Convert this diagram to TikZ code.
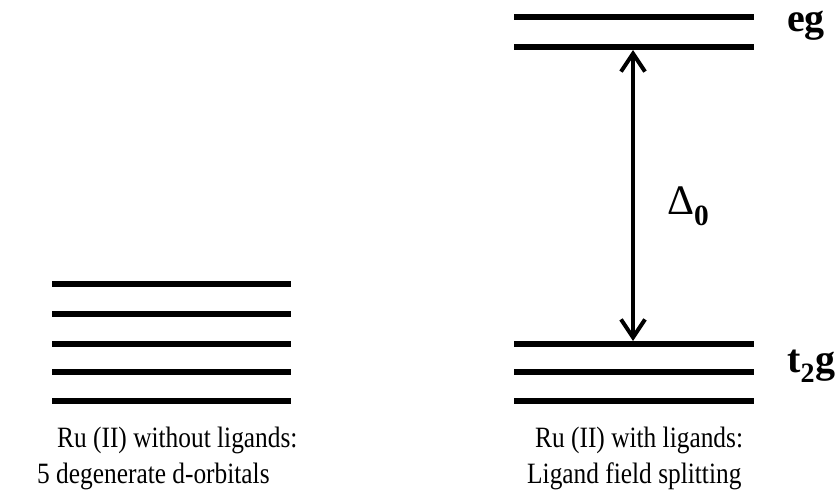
\documentclass[tikz,border=0pt]{standalone}
\usepackage{fontspec}
\setmainfont{Liberation Serif}
\newfontfamily\capfont[FakeStretch=0.86]{Liberation Serif}
\usetikzlibrary{arrows.meta}
\begin{document}
\begin{tikzpicture}[x=1pt,y=-1pt,
  level/.style={line width=6.5pt},
  split/.style={line width=4pt,{Straight Barb[length=18pt,width=24pt]}-{Straight Barb[length=18pt,width=24pt]}},
  caption/.style={anchor=base west,inner sep=0pt,font=\capfont\fontsize{29.5}{34}\selectfont},
  tag/.style={anchor=base west,inner sep=0pt,font=\bfseries\fontsize{40}{46}\selectfont}]
\useasboundingbox (0,0) rectangle (836,494);
% left: five degenerate levels
\foreach \y in {284,314,344,372,401}
  \draw[level] (52,\y) -- (291,\y);
% right: eg and t2g levels
\foreach \y in {17,47,344,372,401}
  \draw[level] (514,\y) -- (754,\y);
\coordinate (egbot) at (633,50);
\coordinate (ttop) at (633,341);
\draw[split] (ttop) -- (egbot);
\node[anchor=base west,inner sep=0pt,font=\fontsize{42}{48}\selectfont] (delta) at (667,215) {Δ\textsubscript{\textbf{0}}};
\node[tag] (eg) at (787,32) {eg};
\node[tag] (t2g) at (787,373) {t\textsubscript{2}g};
\node[caption] (l1) at (57,447) {Ru (II) without ligands:};
\node[caption] (l2) at (37,483) {5 degenerate d-orbitals};
\node[caption] (r1) at (535,447) {Ru (II) with ligands:};
\node[caption] (r2) at (527,483) {Ligand field splitting};
\end{tikzpicture}
\end{document}
